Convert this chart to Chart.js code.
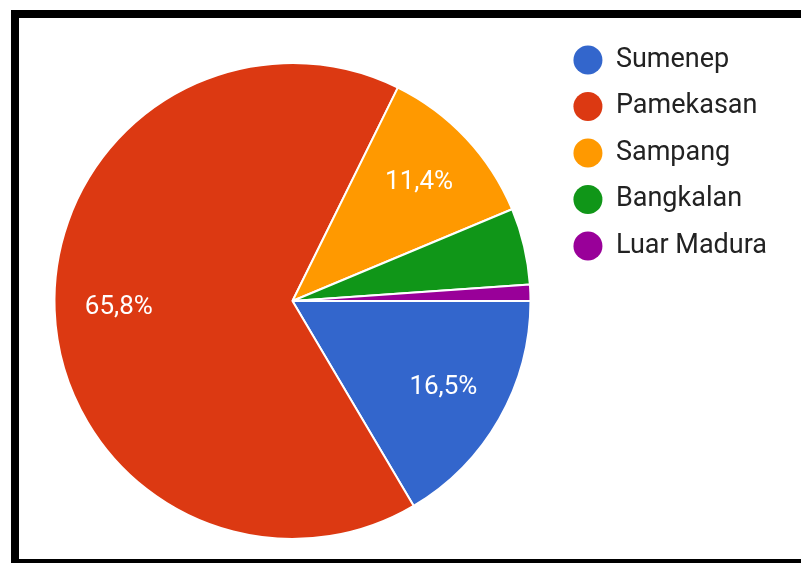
<!DOCTYPE html>
<html>
<head>
<meta charset="utf-8">
<script src="https://cdn.jsdelivr.net/npm/chart.js@4.4.1/dist/chart.umd.min.js"></script>
<style>
  html, body { margin: 0; padding: 0; background: #fff; overflow: hidden; }
  #wrap { position: absolute; left: 0; top: 0; width: 801px; height: 580px; }
  #frame {
    position: absolute; left: 11px; top: 10px; width: 800px; height: 541px;
    border-left: 8px solid #000; border-top: 8px solid #000; border-bottom: 4px solid #000;
    pointer-events: none; z-index: 2;
  }
</style>
</head>
<body>
<div id="wrap"><canvas id="pieChart"></canvas></div>
<div id="frame"></div>
<script>
"use strict";

// Asal daerah responden (persen)
var regions = ["Sumenep", "Pamekasan", "Sampang", "Bangkalan", "Luar Madura"];
var shares = [16.5, 65.8, 11.4, 5.2, 1.1];
var colors = ["#3366cc", "#dc3912", "#ff9900", "#109618", "#990099"];

// Percent text inside the bigger slices
var sliceLabels = {
  id: "sliceLabels",
  afterDatasetsDraw: function (chart) {
    var ctx = chart.ctx;
    var meta = chart.getDatasetMeta(0);
    ctx.save();
    ctx.fillStyle = "#ffffff";
    ctx.font = "26px Roboto";
    ctx.textAlign = "center";
    ctx.textBaseline = "middle";
    meta.data.forEach(function (arc, i) {
      var value = shares[i];
      if (value < 10) return;
      var p = arc.getProps(["x", "y", "startAngle", "endAngle", "outerRadius"], true);
      var mid = (p.startAngle + p.endAngle) / 2;
      var r = p.outerRadius * 0.73;
      ctx.fillText(value.toFixed(1).replace(".", ",") + "%",
                   p.x + Math.cos(mid) * r, p.y + Math.sin(mid) * r);
    });
    ctx.restore();
  }
};

var ctx_pie = document.getElementById("pieChart").getContext("2d");

var myPieChart = new Chart(ctx_pie, {
  type: "pie",
  data: {
    labels: regions,
    datasets: [{
      data: shares,
      backgroundColor: colors,
      borderColor: "#ffffff",
      borderWidth: 2,
      hoverOffset: 0
    }]
  },
  options: {
    responsive: true,
    maintainAspectRatio: false,
    animation: false,
    rotation: 90,
    radius: 238,
    layout: { padding: { left: 31, right: 24, top: 27, bottom: 5 } },
    plugins: {
      tooltip: { enabled: false },
      legend: {
        position: "right",
        align: "start",
        labels: {
          usePointStyle: true,
          pointStyle: "circle",
          pointStyleWidth: 29,
          boxHeight: 20.5,
          padding: 19.5,
          color: "#222222",
          font: { family: "Roboto", size: 27 },
          generateLabels: function (chart) {
            var items = Chart.overrides.pie.plugins.legend.labels.generateLabels(chart);
            items.forEach(function (item) { item.lineWidth = 0; });
            return items;
          }
        }
      }
    }
  },
  plugins: [sliceLabels]
});
</script>
</body>
</html>
